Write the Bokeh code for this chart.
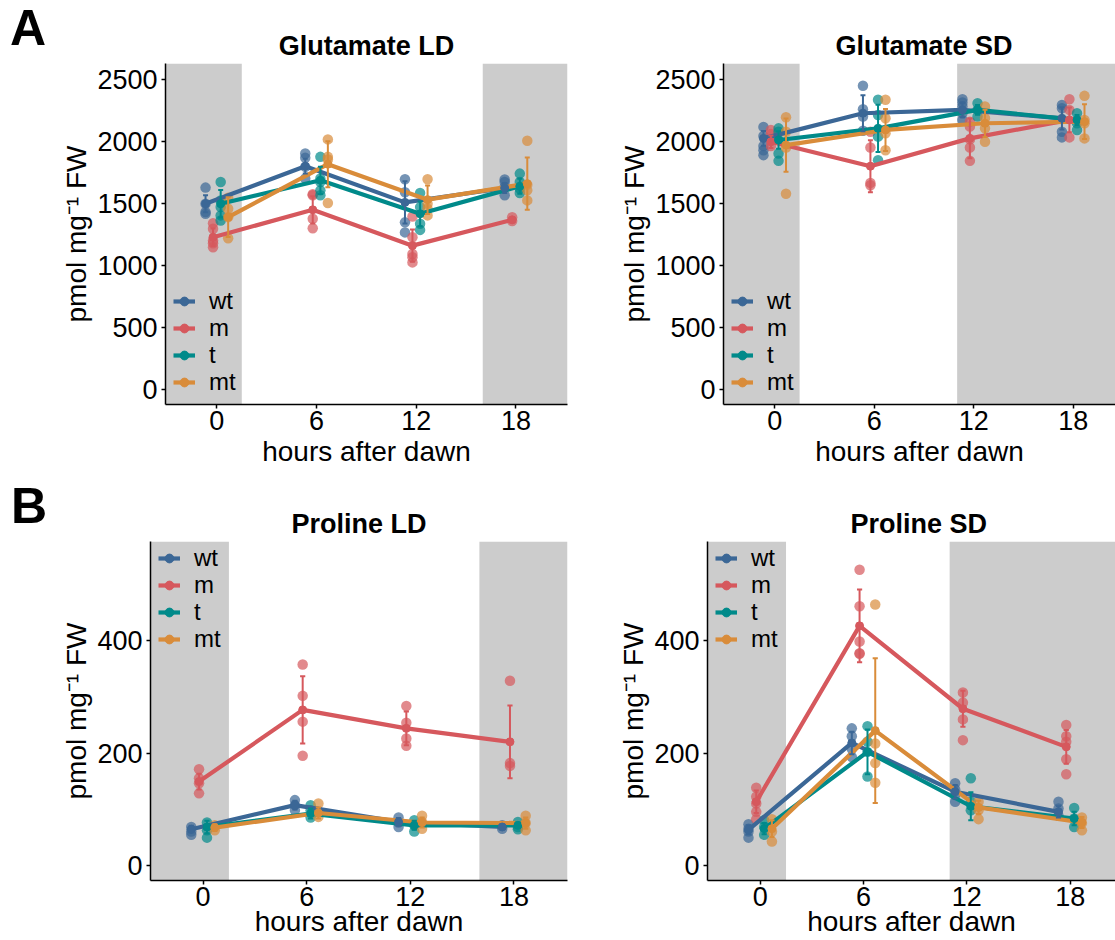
from bokeh.plotting import figure
from bokeh.models import (Legend, LegendItem, BoxAnnotation, FixedTicker, Range1d, Div, Title)
from bokeh.layouts import column, row
from bokeh.embed import file_html
from bokeh.resources import INLINE

# ---------------- data ----------------
hours = [0, 6, 12, 18]
genotypes = ["wt", "m", "t", "mt"]
colors = {"wt": "#3B6796", "m": "#D6585D", "t": "#008A8A", "mt": "#D98C3A"}

glu_ticks = [0, 500, 1000, 1500, 2000, 2500]
pro_ticks = [0, 200, 400]

# Glutamate LD
glu_ld_mean = {"wt": [1494, 1797, 1505, 1621], "m": [1224, 1445, 1156, 1364],
               "t": [1494, 1683, 1413, 1635], "mt": [1386, 1813, 1527, 1656]}
glu_ld_err = {"wt": [68, 60, 170, 40], "m": [70, 110, 130, 20],
              "t": [110, 110, 100, 60], "mt": [160, 185, 115, 210]}
glu_ld_pts = {
    "wt": [[1624, 1494, 1427, 1413], [1899, 1864, 1791, 1697], [1692, 1587, 1344, 1263], [1689, 1670, 1629, 1562]],
    "m": [[1337, 1292, 1197, 1175, 1143], [1570, 1562, 1373, 1297], [1391, 1224, 1089, 1062, 1021], [1386, 1354]],
    "t": [[1670, 1521, 1467, 1400, 1359], [1872, 1697, 1670, 1602, 1562], [1581, 1467, 1332, 1283], [1737, 1670, 1616, 1581]],
    "mt": [[1543, 1454, 1386, 1216], [2013, 1872, 1851, 1500], [1691, 1494, 1454, 1400], [2002, 1648, 1602, 1521]],
}

# Glutamate SD
glu_sd_mean = {"wt": [2021, 2224, 2251, 2183], "m": [1994, 1797, 2021, 2170],
               "t": [2008, 2102, 2251, 2170], "mt": [1967, 2089, 2143, 2156]}
glu_sd_err = {"wt": [60, 145, 60, 90], "m": [50, 210, 160, 100],
              "t": [70, 190, 40, 40], "mt": [215, 170, 110, 140]}
glu_sd_pts = {
    "wt": [[2113, 2040, 1959, 1926, 1886], [2445, 2256, 2197, 2083], [2337, 2310, 2278, 2224, 2170], [2291, 2264, 2075, 2029]],
    "m": [[2089, 2056, 2008, 1959], [2075, 1948, 1662, 1643], [2156, 2116, 2013, 1948, 1840], [2337, 2251, 2029]],
    "t": [[2102, 2075, 2008, 1899, 1840], [2332, 2210, 2035, 1845], [2305, 2251, 2197], [2224, 2143, 2089]],
    "mt": [[2191, 2075, 1948, 1575], [2332, 2183, 2062, 1926], [2278, 2183, 2102, 1994], [2364, 2170, 2143, 2021]],
}

# Proline LD
pro_ld_mean = {"wt": [64, 107, 77, 68], "m": [149, 277, 244, 220],
               "t": [68, 92, 71, 71], "mt": [67, 93, 76, 75]}
pro_ld_err = {"wt": [6, 8, 7, 4], "m": [14, 60, 30, 65],
              "t": [11, 9, 8, 5], "mt": [6, 10, 9, 10]}
pro_ld_pts = {
    "wt": [[68, 60, 54], [116, 107, 98], [85, 76, 68], [71, 65]],
    "m": [[171, 155, 146, 128], [358, 302, 256, 195], [284, 254, 226, 213], [329, 182, 177]],
    "t": [[76, 62, 49], [107, 98, 85], [80, 71, 60], [77, 68, 64]],
    "mt": [[71, 62], [110, 95, 86], [88, 77, 65], [88, 75, 62]],
}

# Proline SD
pro_sd_mean = {"wt": [63, 218, 131, 95], "m": [113, 427, 279, 211],
               "t": [65, 202, 105, 83], "mt": [65, 240, 103, 76]}
pro_sd_err = {"wt": [8, 20, 12, 10], "m": [20, 65, 32, 30],
              "t": [10, 40, 25, 12], "mt": [15, 129, 12, 10]}
pro_sd_pts = {
    "wt": [[73, 65, 60, 49], [244, 230, 207, 193], [146, 135, 125, 113], [113, 101, 88]],
    "m": [[138, 122, 110, 95, 82], [527, 462, 399, 378, 377], [308, 290, 260, 223], [250, 230, 220, 189, 162]],
    "t": [[80, 68, 54], [248, 220, 202, 158], [155, 113, 98], [102, 83, 68]],
    "mt": [[82, 60, 42], [465, 217, 182, 147], [113, 98, 82], [85, 75, 62]],
}

# ---------------- styling ----------------
DODGE = {"wt": -0.68, "m": -0.23, "t": 0.23, "mt": 0.68}
FONT = "Liberation Sans"
CAP = 0.15
LETTER_W = 50
ROW = 27  # legend row pitch (px)


def make_panel(title, means, errs, pts, night, yticks, yrange, xrange,
               width, height, bl, br, bt, bb, legend_top_center, title_align, title_offset,
               xlabel_standoff):
    p = figure(width=width, height=height, x_range=Range1d(*xrange), y_range=Range1d(*yrange),
               output_backend="svg", toolbar_location=None,
               min_border_left=bl, min_border_right=br, min_border_top=bt, min_border_bottom=bb)
    p.title = Title(text=title, align=title_align, offset=title_offset, standoff=6,
                    text_font=FONT, text_font_size="27px", text_font_style="bold",
                    text_color="black")
    p.xgrid.visible = False
    p.ygrid.visible = False
    p.outline_line_color = None
    for a, b in night:
        p.add_layout(BoxAnnotation(left=a, right=b, fill_color="#CCCCCC", fill_alpha=1.0,
                                   line_color=None, level="underlay"))
    # replicate points
    for g in genotypes:
        xs, ys = [], []
        for i, h in enumerate(hours):
            for v in pts[g][i]:
                xs.append(h + DODGE[g])
                ys.append(v)
        p.scatter(xs, ys, size=10.5, color=colors[g], alpha=0.7, line_color=None)
    line_rs = {}
    for g in genotypes:
        xd = [h + DODGE[g] for h in hours]
        line_rs[g] = p.line(xd, means[g], line_width=4.2, color=colors[g])
    for k, g in enumerate(genotypes):
        xd = [h + DODGE[g] for h in hours]
        lo = [m - e for m, e in zip(means[g], errs[g])]
        hi = [m + e for m, e in zip(means[g], errs[g])]
        p.segment(xd, lo, xd, hi, line_width=2, color=colors[g])
        p.segment([x - CAP for x in xd], hi, [x + CAP for x in xd], hi, line_width=2, color=colors[g])
        p.segment([x - CAP for x in xd], lo, [x + CAP for x in xd], lo, line_width=2, color=colors[g])
        mp = p.scatter(xd, means[g], size=8, color=colors[g])
        # one legend per entry so the row pitch matches the reference
        center = legend_top_center - k * ROW
        legend = Legend(items=[LegendItem(label=g, renderers=[line_rs[g], mp])],
                        location=(8, int(round(center - 13))), background_fill_alpha=0.0,
                        border_line_alpha=0.0, padding=0, margin=0, spacing=0,
                        glyph_width=22, glyph_height=26, label_height=26, label_standoff=14,
                        label_text_font=FONT, label_text_font_size="24px",
                        label_text_color="black")
        p.add_layout(legend)

    p.xaxis.ticker = FixedTicker(ticks=hours)
    p.yaxis.ticker = FixedTicker(ticks=yticks)
    p.xaxis.axis_label = "hours after dawn"
    p.yaxis.axis_label = "pmol mg\u207b\u00b9 FW"
    for ax in (p.xaxis[0], p.yaxis[0]):
        ax.axis_line_color = "black"
        ax.axis_line_width = 1.5
        ax.major_tick_line_color = "black"
        ax.major_tick_line_width = 1.5
        ax.major_tick_out = 4
        ax.major_tick_in = 0
        ax.minor_tick_line_color = None
        ax.major_label_text_font = FONT
        ax.major_label_text_font_size = "27px"
        ax.major_label_text_color = "black"
        ax.axis_label_text_font = FONT
        ax.axis_label_text_font_size = "28px"
        ax.axis_label_text_font_style = "normal"
        ax.axis_label_text_color = "black"
    p.xaxis.major_label_standoff = 2
    p.xaxis.axis_label_standoff = xlabel_standoff
    p.yaxis.major_label_standoff = 4
    p.yaxis.axis_label_standoff = 2
    return p


LD_NIGHT = [(None, 1.5), (16, None)]
SD_NIGHT = [(None, 1.5), (11, None)]
GLU_Y = (-125, 2625)
PRO_Y = (-27.5, 577.5)

# legend: vertical centre of the first row, in px above the frame bottom
GLU_LEG = 102
PRO_LEG = 321

p1 = make_panel("Glutamate LD", glu_ld_mean, glu_ld_err, glu_ld_pts, LD_NIGHT, glu_ticks, GLU_Y,
                (-3.09, 21.1), 600 - LETTER_W, 470, 165 - LETTER_W, 33, 63, 66, GLU_LEG,
                "center", 0, 3)
p2 = make_panel("Glutamate SD", glu_sd_mean, glu_sd_err, glu_sd_pts, SD_NIGHT, glu_ticks, GLU_Y,
                (-3.09, 20.55), 515, 470, 123, 0, 63, 66, GLU_LEG, "left", 112, 3)
p3 = make_panel("Proline LD", pro_ld_mean, pro_ld_err, pro_ld_pts, LD_NIGHT, pro_ticks, PRO_Y,
                (-3.04, 21.1), 600 - LETTER_W, 470, 150 - LETTER_W, 33, 71, 60, PRO_LEG,
                "center", 0, -3)
p4 = make_panel("Proline SD", pro_sd_mean, pro_sd_err, pro_sd_pts, SD_NIGHT, pro_ticks, PRO_Y,
                (-3.06, 20.63), 515, 470, 107, 0, 71, 60, PRO_LEG, "left", 143, -3)

LETTER_CSS = ("font-family:'Liberation Sans',Arial,sans-serif;font-size:50px;font-weight:bold;"
              "line-height:1.15;margin:0;color:black;")
divA = Div(text=f"<div style=\"{LETTER_CSS}padding-left:10px;padding-top:0px;\">A</div>",
           width=LETTER_W, height=470, margin=0)
divB = Div(text=f"<div style=\"{LETTER_CSS}padding-left:11px;padding-top:8px;\">B</div>",
           width=LETTER_W, height=470, margin=0)

layout = row(column(divA, divB), column(row(p1, p2), row(p3, p4)))
open("out.html", "w").write(file_html(layout, INLINE))
